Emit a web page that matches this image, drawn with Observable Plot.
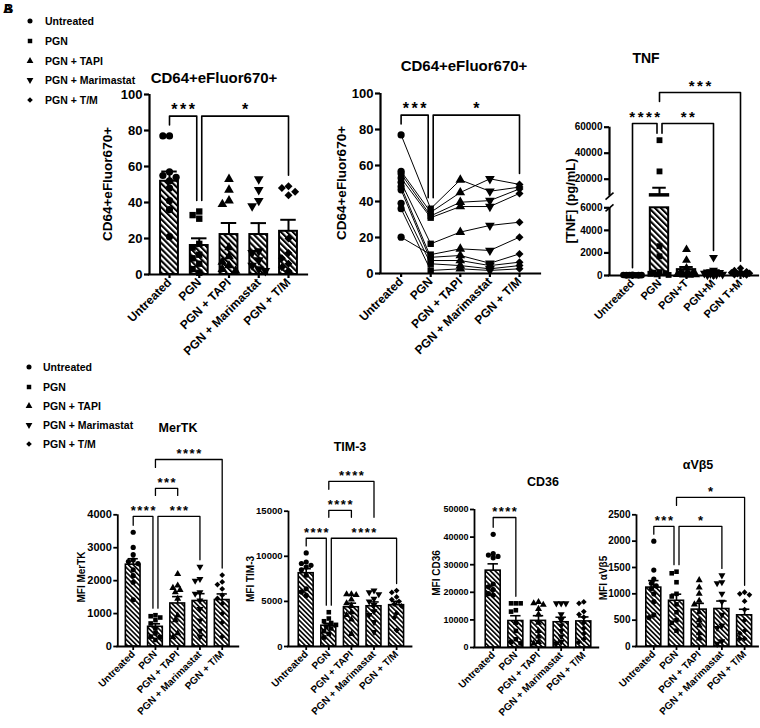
<!DOCTYPE html>
<html>
<head>
<meta charset="utf-8">
<script src="https://cdn.jsdelivr.net/npm/d3@7"></script>
<script src="https://cdn.jsdelivr.net/npm/@observablehq/plot@0.6"></script>
<style>
html,body{margin:0;padding:0;background:#fff;}
#fig{position:relative;width:760px;height:728px;overflow:hidden;background:#fff;font-family:"Liberation Sans",Arial,sans-serif;font-weight:bold;color:#000;}
#fig > svg.layer{position:absolute;left:0;top:0;}
.t{position:absolute;white-space:nowrap;line-height:1;transform:translate(-50%,-50%);}
.yl{position:absolute;white-space:nowrap;line-height:1;transform:translate(-50%,-50%) rotate(-90deg);}
.lg{position:absolute;white-space:nowrap;line-height:1;transform:translateY(-50%);}
.mk{position:absolute;}
</style>
</head>
<body>
<div id="fig">
<svg width="0" height="0" style="position:absolute;left:0;top:0">
 <defs>
  <pattern id="hatchA" patternUnits="userSpaceOnUse" width="4.2" height="4.2" patternTransform="rotate(-45)">
   <rect width="4.2" height="4.2" fill="#fff"/>
   <rect x="0" y="0" width="2.1" height="4.2" fill="#000"/>
  </pattern>
  <pattern id="hatchB" patternUnits="userSpaceOnUse" width="3.4" height="3.4" patternTransform="rotate(-45)">
   <rect width="3.4" height="3.4" fill="#fff"/>
   <rect x="0" y="0" width="1.6" height="3.4" fill="#000"/>
  </pattern>
 </defs>
</svg>
</div>
<script>
// ---------------- DATA ----------------
const groups = ["Untreated", "PGN", "PGN + TAPI", "PGN + Marimastat", "PGN + T/M"];
const tnfCats = ["Untreated", "PGN", "PGN+T", "PGN+M", "PGN T+M"];

// CD64+eFluor670+ (bar + points), one array per group
const cd64Bar = [
  [77, 77, 57, 55, 54, 52, 48, 41, 36, 21],
  [35, 33, 31, 17, 15, 11, 9, 6, 3, 1],
  [53, 47, 41, 39, 15, 10, 7, 5, 3, 2],
  [53, 47, 41, 38, 13, 12, 8, 5, 3, 2],
  [49, 48, 46, 44, 20, 12, 9, 6, 4, 2]
];
// CD64+eFluor670+ paired, one row per donor (Untreated, PGN, TAPI, Marimastat, T/M)
const cd64Paired = [
  [77, 36, 52, 45.7, 48],
  [56.8, 34, 45, 52.6, 49.5],
  [55.4, 32, 39.6, 40.5, 47],
  [53, 31, 37.2, 37.2, 44.5],
  [50.7, 16.5, 23, 26.7, 28.5],
  [20.2, 10.5, 13.7, 12.8, 20.2],
  [48.3, 9, 10, 5.7, 10.9],
  [46.5, 7.2, 7.2, 4.4, 6.3],
  [39, 5.4, 4.4, 2.6, 4.4],
  [36, 1.7, 2.6, 1.7, 2.6]
];
const cd64Ticks = [0, 20, 40, 60, 80, 100];
const cd64Brackets = [
  {a: 0, b: 1, label: "***", top: 88},
  {a: 1, b: 4, label: "*", top: 88}
];

// TNF (pg/mL)
const tnfData = [
  [60, 50, 40, 40, 30, 30, 20, 20, 10, 10],
  [50000, 26000, 2600, 1700, 300, 250, 200, 150, 100, 50],
  [2300, 1350, 650, 300, 200, 150, 100, 80, 50, 20],
  [1600, 450, 300, 250, 200, 150, 100, 80, 50, 30],
  [650, 450, 350, 300, 250, 200, 150, 100, 60, 40]
];
const tnfTicks = [0, 2000, 4000, 6000, 20000, 40000, 60000];
const tnfBreak = [6000, 7000];
const tnfBrackets = [
  {a: 0, b: 1, label: "****", top: 62850},
  {a: 1, b: 3, label: "**", top: 62850},
  {a: 1, b: 4, label: "***", top: 86700}
];

// MerTK MFI
const mertkData = [
  [3470, 3010, 2790, 2630, 2580, 2520, 2330, 2150, 1950, 1420],
  [950, 920, 880, 800, 700, 550, 400, 300, 280, 200],
  [2200, 1850, 1780, 1720, 1650, 1450, 940, 800, 400, 280],
  [2420, 2050, 2000, 1650, 1600, 1400, 1140, 790, 480, 300],
  [2170, 1960, 1880, 1750, 1560, 1460, 1300, 1000, 730, 300]
];
const mertkTicks = [0, 1000, 2000, 3000, 4000];
const mertkBrackets = [
  {a: 0, b: 1, label: "****", top: 3950},
  {a: 1, b: 3, label: "***", top: 3950},
  {a: 1, b: 2, label: "***", top: 4800},
  {a: 1, b: 4, label: "****", top: 5680}
];

// TIM-3 MFI
const tim3Data = [
  [10370, 9370, 9200, 9000, 8800, 8500, 7900, 6400, 6050, 5660],
  [3800, 3100, 2800, 2600, 2400, 2200, 2000, 1700, 1400, 1000],
  [5800, 5800, 5700, 5200, 4800, 4500, 3800, 3500, 3000, 1400],
  [6200, 6000, 5800, 5300, 5000, 4600, 3900, 3500, 2700, 1600],
  [6200, 6000, 5500, 5200, 5000, 4700, 4500, 3700, 3200, 1800]
];
const tim3Ticks = [0, 5000, 10000, 15000];
const tim3Brackets = [
  {a: 0, b: 1, label: "****", top: 12000},
  {a: 1, b: 4, label: "****", top: 12000},
  {a: 1, b: 2, label: "****", top: 15100},
  {a: 1, b: 3, label: "****", top: 18300}
];

// CD36 MFI
const cd36Data = [
  [41000, 34000, 33500, 33000, 32500, 23000, 22000, 21000, 19500, 19000],
  [16000, 16000, 16000, 13500, 13000, 9000, 6000, 3000, 2000, 1500],
  [16500, 16000, 15500, 14000, 12000, 9000, 6000, 4000, 2000, 1500],
  [16000, 16000, 16000, 12000, 10000, 8000, 6000, 4000, 2000, 1500],
  [16500, 16000, 13000, 12000, 11000, 9000, 7000, 5000, 3000, 2000]
];
const cd36Ticks = [0, 10000, 20000, 30000, 40000, 50000];
const cd36Brackets = [
  {a: 0, b: 1, label: "****", top: 47100}
];

// αVβ5 MFI
const avb5Data = [
  [2000, 1450, 1280, 1200, 1150, 1100, 1000, 850, 600, 550],
  [1420, 1390, 1220, 1000, 950, 800, 650, 450, 500, 300],
  [1260, 1120, 1000, 870, 800, 650, 500, 400, 250, 150],
  [1350, 1220, 1200, 1000, 850, 600, 400, 350, 100, 50],
  [1030, 1000, 980, 860, 700, 500, 300, 250, 150, 150]
];
const avb5Ticks = [0, 500, 1000, 1500, 2000, 2500];
const avb5Brackets = [
  {a: 0, b: 1, label: "***", top: 2280},
  {a: 1, b: 3, label: "*", top: 2280},
  {a: 1, b: 4, label: "*", top: 2830}
];

// ---------------- DRAWING ----------------
const W = 760, H = 728;
const fig = document.getElementById("fig");

const TRI_DOWN = {draw(ctx, size) {
  const y = -Math.sqrt(size / (Math.sqrt(3) * 3));
  ctx.moveTo(0, -y * 2);
  ctx.lineTo(-Math.sqrt(3) * y, y);
  ctx.lineTo(Math.sqrt(3) * y, y);
  ctx.closePath();
}};
const SYMS = ["circle", "square", "triangle", TRI_DOWN, "diamond2"];
const LEG_SYMS = [d3.symbolCircle, d3.symbolSquare, d3.symbolTriangle, TRI_DOWN, d3.symbolDiamond2];

const TOP = {tick: 13, xtick: 12, axisW: 2.2, tickLen: 5, barW: 2, brW: 1.6, hw: 0.3, cw: 0.26, r: 3.6, maxOff: 12,
  star: 16, ls: 2.5, gap: 11, labelH: 16, starGap: 10, hatch: "url(#hatchA)"};
const TNFS = {...TOP, tick: 10, xtick: 11, hw: 0.34, cw: 0.25, r: 3.3, maxOff: 10, star: 15, gap: 7, labelH: 15, starGap: 10};
const BOT = {tick: 10.5, xtick: 10, axisW: 1.8, tickLen: 4, barW: 1.6, brW: 1.3, hw: 0.33, cw: 0.23, r: 2.6, maxOff: 8,
  star: 13, ls: 1.5, gap: 7, labelH: 14, starGap: 9, hatch: "url(#hatchB)"};

function makeScales(L, yDomain, yRange) {
  const xlo = (L.axisX - L.c0) / L.step, xhi = (L.xEnd - L.c0) / L.step;
  return {xlo, xhi, xs: d3.scaleLinear([xlo, xhi], [L.axisX, L.xEnd]), ys: d3.scaleLinear(yDomain, yRange)};
}

function swarm(vals, ys, stepPx, dPx, maxOffPx) {
  const order = d3.range(vals.length).sort((i, j) => vals[j] - vals[i]);
  const placed = [], off = new Array(vals.length);
  const cands = [0];
  for (let k = 1; k * dPx * 0.5 <= maxOffPx + 1e-6; k++) cands.push(-k * dPx * 0.5, k * dPx * 0.5);
  for (const i of order) {
    const py = ys(vals[i]);
    let best = 0, bestScore = -Infinity;
    for (const c of cands) {
      let minD = Infinity;
      for (const p of placed) minD = Math.min(minD, Math.hypot(p[0] - c, p[1] - py));
      if (minD >= dPx) { best = c; break; }
      if (minD > bestScore) { bestScore = minD; best = c; }
    }
    placed.push([best, py]);
    off[i] = best / stepPx;
  }
  return off;
}

function swarmPoints(data, ypx, L, st) {
  const pts = [];
  data.forEach((v, g) => {
    const off = swarm(v, ypx, L.step, 2 * st.r * 0.92, st.maxOff);
    v.forEach((y, k) => pts.push({g, x: g + off[k], y}));
  });
  return pts;
}

function statsOf(data) {
  return data.map((v, i) => ({i, mean: d3.mean(v), sem: d3.deviation(v) / Math.sqrt(v.length), max: d3.max(v)}));
}

function dotMarks(pts, st) {
  return SYMS.map((s, g) => Plot.dot(pts.filter(p => p.g === g), {x: "x", y: "y", symbol: s, r: st.r, fill: "black", stroke: "none"}));
}

// ypx: value -> pixel (mirror of the panel's y mapping); toData: pixel -> value in the drawing plot's y scale
function bracketMarks(brackets, stats, ypx, toData, L, st) {
  const segs = [], labs = [];
  const sh = 2.5 / L.step;
  brackets.forEach((b, id) => {
    const tp = ypx(b.top);
    const legEnd = g => {
      let lim = ypx(stats[g].max);
      brackets.forEach(o => {
        if (o !== b && o.a <= g && g <= o.b && ypx(o.top) > tp + 1) lim = Math.min(lim, ypx(o.top) - st.labelH);
      });
      return toData(Math.max(lim - st.gap, tp + 3));
    };
    const xa = b.a + (brackets.some(o => o !== b && o.b === b.a && o.top === b.top) ? sh : 0);
    const xb = b.b - (brackets.some(o => o !== b && o.a === b.b && o.top === b.top) ? sh : 0);
    const yt = toData(tp);
    segs.push({id, x: xa, y: legEnd(b.a)}, {id, x: xa, y: yt}, {id, x: xb, y: yt}, {id, x: xb, y: legEnd(b.b)});
    labs.push({x: (xa + xb) / 2, y: yt, text: b.label});
  });
  return [
    Plot.line(segs, {x: "x", y: "y", z: "id", stroke: "black", strokeWidth: st.brW}),
    Plot.text(labs, {x: "x", y: "y", text: "text", fontSize: st.star, lineAnchor: "middle",
      dy: -st.starGap + 0.245 * st.star, dx: st.ls / 2})
  ];
}

function yAxisMarks(S, ticks, st, seg) {
  return [
    Plot.axisY({ticks, tickFormat: d => String(d), tickSize: st.tickLen, tickPadding: 2, fontSize: st.tick, strokeWidth: st.axisW, label: null}),
    Plot.ruleX([S.xlo], {y1: seg[0], y2: seg[1], strokeWidth: st.axisW})
  ];
}
function xAxisMarks(S, cats, st) {
  return [
    Plot.axisX({ticks: d3.range(cats.length), tickFormat: i => cats[i], tickRotate: -45, tickSize: 4, tickPadding: 2,
      fontSize: st.xtick, strokeWidth: st.axisW, label: null, textAnchor: "end", lineAnchor: "middle"}),
    Plot.ruleY([0], {x1: S.xlo, x2: S.xhi, strokeWidth: st.axisW, strokeLinecap: "square"})
  ];
}

function render(marks, S, L, yDomain, yRange, st, noXAxis) {
  const xOpt = {domain: [S.xlo, S.xhi], label: null};
  if (noXAxis) xOpt.axis = null;
  const svg = Plot.plot({
    width: W, height: H,
    marginLeft: L.axisX, marginRight: W - L.xEnd,
    marginTop: Math.min(...yRange), marginBottom: H - Math.max(...yRange),
    x: xOpt,
    y: {domain: yDomain, label: null},
    style: {fontFamily: '"Liberation Sans", Arial, sans-serif', fontWeight: "bold", fontSize: "12px",
      background: "transparent", overflow: "visible", color: "black"},
    marks
  });
  svg.classList.add("layer");
  svg.querySelectorAll("text").forEach(t => { if (/^\*+$/.test(t.textContent)) t.setAttribute("letter-spacing", st.ls); });
  fig.appendChild(svg);
}

function barPanel(o) {
  const {L, st, cats, data, ticks, brackets} = o;
  const yDomain = [0, ticks[ticks.length - 1]];
  const yRange = [L.y0, L.yTop];
  const S = makeScales(L, yDomain, yRange);
  const stats = statsOf(data);
  const pts = swarmPoints(data, S.ys, L, st);
  const marks = [
    Plot.rectY(stats, {x1: d => d.i - st.hw, x2: d => d.i + st.hw, y1: 0, y2: "mean", fill: st.hatch, stroke: "black", strokeWidth: st.barW}),
    Plot.ruleX(stats, {x: "i", y1: "mean", y2: d => d.mean + d.sem, strokeWidth: st.barW}),
    Plot.ruleY(stats, {y: d => d.mean + d.sem, x1: d => d.i - st.cw, x2: d => d.i + st.cw, strokeWidth: st.barW}),
    ...dotMarks(pts, st),
    ...bracketMarks(brackets, stats, S.ys, S.ys.invert, L, st),
    ...yAxisMarks(S, ticks, st, yDomain),
    ...xAxisMarks(S, cats, st)
  ];
  render(marks, S, L, yDomain, yRange, st);
}

function pairedPanel(o) {
  const {L, st, cats, rows, ticks, brackets} = o;
  const yDomain = [0, ticks[ticks.length - 1]], yRange = [L.y0, L.yTop];
  const S = makeScales(L, yDomain, yRange);
  const pts = rows.flatMap((r, d) => r.map((y, g) => ({d, g, x: g, y})));
  const stats = cats.map((c, i) => ({i, max: d3.max(rows, r => r[i])}));
  const marks = [
    Plot.line(pts, {x: "x", y: "y", z: "d", stroke: "black", strokeWidth: 1}),
    ...dotMarks(pts, st),
    ...bracketMarks(brackets, stats, S.ys, S.ys.invert, L, st),
    ...yAxisMarks(S, ticks, st, yDomain),
    ...xAxisMarks(S, cats, st)
  ];
  render(marks, S, L, yDomain, yRange, st);
}

// TNF: broken y axis drawn as two stacked Plot scales (lower 0–6000, upper 7000–60000)
function tnfPanel() {
  const st = TNFS;
  const L = {axisX: 609, c0: 632, step: 27, xEnd: 758};
  const lo = {dom: [0, tnfBreak[0]], rng: [275, 207.3]};
  const hi = {dom: [tnfBreak[1], 60000], rng: [195.6, 126.7]};
  const Slo = makeScales(L, lo.dom, lo.rng), Shi = makeScales(L, hi.dom, hi.rng);
  const gapScale = d3.scaleLinear(tnfBreak, [lo.rng[1], hi.rng[0]]);
  const ypx = v => v <= tnfBreak[0] ? Slo.ys(v) : v >= tnfBreak[1] ? Shi.ys(v) : gapScale(v);
  const stats = statsOf(tnfData);
  const pts = swarmPoints(tnfData, ypx, L, st);
  const errLo = stats.filter(s => s.mean < tnfBreak[0]), errHi = stats.filter(s => s.mean >= tnfBreak[1]);
  const errMarks = arr => [
    Plot.ruleX(arr, {x: "i", y1: "mean", y2: d => d.mean + d.sem, strokeWidth: st.barW}),
    Plot.ruleY(arr, {y: d => d.mean + d.sem, x1: d => d.i - st.cw, x2: d => d.i + st.cw, strokeWidth: st.barW})
  ];
  const slashes = [tnfBreak[0], tnfBreak[1]].map(v => ({
    x1: Slo.xs.invert(L.axisX - 4), x2: Slo.xs.invert(L.axisX + 4),
    y1: Slo.ys.invert(ypx(v) + 3.5), y2: Slo.ys.invert(ypx(v) - 3.5)}));
  // lower part
  render([
    Plot.rectY(stats, {x1: d => d.i - st.hw, x2: d => d.i + st.hw, y1: 0, y2: d => Math.min(d.mean, tnfBreak[0]),
      fill: st.hatch, stroke: "black", strokeWidth: st.barW}),
    ...errMarks(errLo),
    ...dotMarks(pts.filter(p => p.y <= tnfBreak[0]), st),
    ...yAxisMarks(Slo, tnfTicks.filter(t => t <= tnfBreak[0]), st, lo.dom),
    ...xAxisMarks(Slo, tnfCats, st),
    Plot.link(slashes, {x1: "x1", y1: "y1", x2: "x2", y2: "y2", stroke: "black", strokeWidth: 1.6})
  ], Slo, L, lo.dom, lo.rng, st);
  // upper part
  render([
    Plot.rectY(stats.filter(s => s.mean > tnfBreak[1]), {x1: d => d.i - st.hw, x2: d => d.i + st.hw, y1: tnfBreak[1], y2: "mean",
      fill: st.hatch, stroke: "black", strokeWidth: st.barW}),
    ...errMarks(errHi),
    ...dotMarks(pts.filter(p => p.y >= tnfBreak[1]), st),
    ...bracketMarks(tnfBrackets, stats, ypx, Shi.ys.invert, L, st),
    ...yAxisMarks(Shi, tnfTicks.filter(t => t >= tnfBreak[1]), st, hi.dom)
  ], Shi, L, hi.dom, hi.rng, st, true);
}

// ---- panels ----
barPanel({L: {axisX: 149, c0: 169, step: 29.75, xEnd: 307, y0: 274, yTop: 94}, st: TOP,
  cats: groups, data: cd64Bar, ticks: cd64Ticks, brackets: cd64Brackets});
pairedPanel({L: {axisX: 380, c0: 400.6, step: 29.6, xEnd: 540, y0: 273, yTop: 93}, st: TOP,
  cats: groups, rows: cd64Paired, ticks: cd64Ticks, brackets: cd64Brackets});
tnfPanel();
barPanel({L: {axisX: 117.3, c0: 132.7, step: 22.25, xEnd: 238.3, y0: 646, yTop: 514.3}, st: {...BOT, tick: 11},
  cats: groups, data: mertkData, ticks: mertkTicks, brackets: mertkBrackets});
barPanel({L: {axisX: 288, c0: 305.7, step: 22.6, xEnd: 411.5, y0: 646, yTop: 510.7}, st: {...BOT, tick: 9.5},
  cats: groups, data: tim3Data, ticks: tim3Ticks, brackets: tim3Brackets});
barPanel({L: {axisX: 474, c0: 492.7, step: 22.65, xEnd: 598.3, y0: 647, yTop: 509}, st: {...BOT, tick: 9},
  cats: groups, data: cd36Data, ticks: cd36Ticks, brackets: cd36Brackets});
barPanel({L: {axisX: 636, c0: 653.3, step: 22.7, xEnd: 758, y0: 646, yTop: 514.3}, st: {...BOT, tick: 10},
  cats: groups, data: avb5Data, ticks: avb5Ticks, brackets: avb5Brackets});

// ---- text: titles, y labels, legends ----
function txt(cls, s, x, y, fs) {
  const d = document.createElement("div");
  d.className = cls; d.textContent = s;
  d.style.left = x + "px"; d.style.top = y + "px"; d.style.fontSize = fs + "px";
  fig.appendChild(d);
}
txt("lg", "A", 3, 8, 13);
txt("lg", "B", 4, 8, 13);

txt("t", "CD64+eFluor670+", 214, 77, 15);
txt("t", "CD64+eFluor670+", 464, 65, 15);
txt("t", "TNF", 646, 58, 14);
txt("t", "MerTK", 178, 428, 12.5);
txt("t", "TIM-3", 350, 447, 12.5);
txt("t", "CD36", 543, 482, 12.5);
txt("t", "αVβ5", 698, 465, 12.5);

txt("yl", "CD64+eFluor670+", 108, 184, 13.5);
txt("yl", "CD64+eFluor670+", 342, 183, 13.5);
txt("yl", "[TNF] (pg/mL)", 570, 201, 13);
txt("yl", "MFI MerTK", 82, 577, 10);
txt("yl", "MFI TIM-3", 251, 579, 10);
txt("yl", "MFI CD36", 437, 573, 10);
txt("yl", "MFI αVβ5", 604, 578, 10);

function legend(mx, tx, rowsY, fs) {
  groups.forEach((g, i) => {
    const s = document.createElementNS("http://www.w3.org/2000/svg", "svg");
    s.setAttribute("width", 10); s.setAttribute("height", 10);
    s.setAttribute("class", "mk");
    s.style.left = (mx - 5) + "px"; s.style.top = (rowsY[i] - 5) + "px";
    const p = document.createElementNS("http://www.w3.org/2000/svg", "path");
    p.setAttribute("transform", "translate(5,5)");
    p.setAttribute("d", d3.symbol(LEG_SYMS[i], 20)());
    p.setAttribute("fill", "black");
    s.appendChild(p);
    fig.appendChild(s);
    txt("lg", g, tx, rowsY[i], fs);
  });
}
legend(30, 45, [21, 41, 61, 80, 100], 10.5);
legend(29, 43, [367, 387, 406, 425, 444], 10.5);
</script>
</body>
</html>
